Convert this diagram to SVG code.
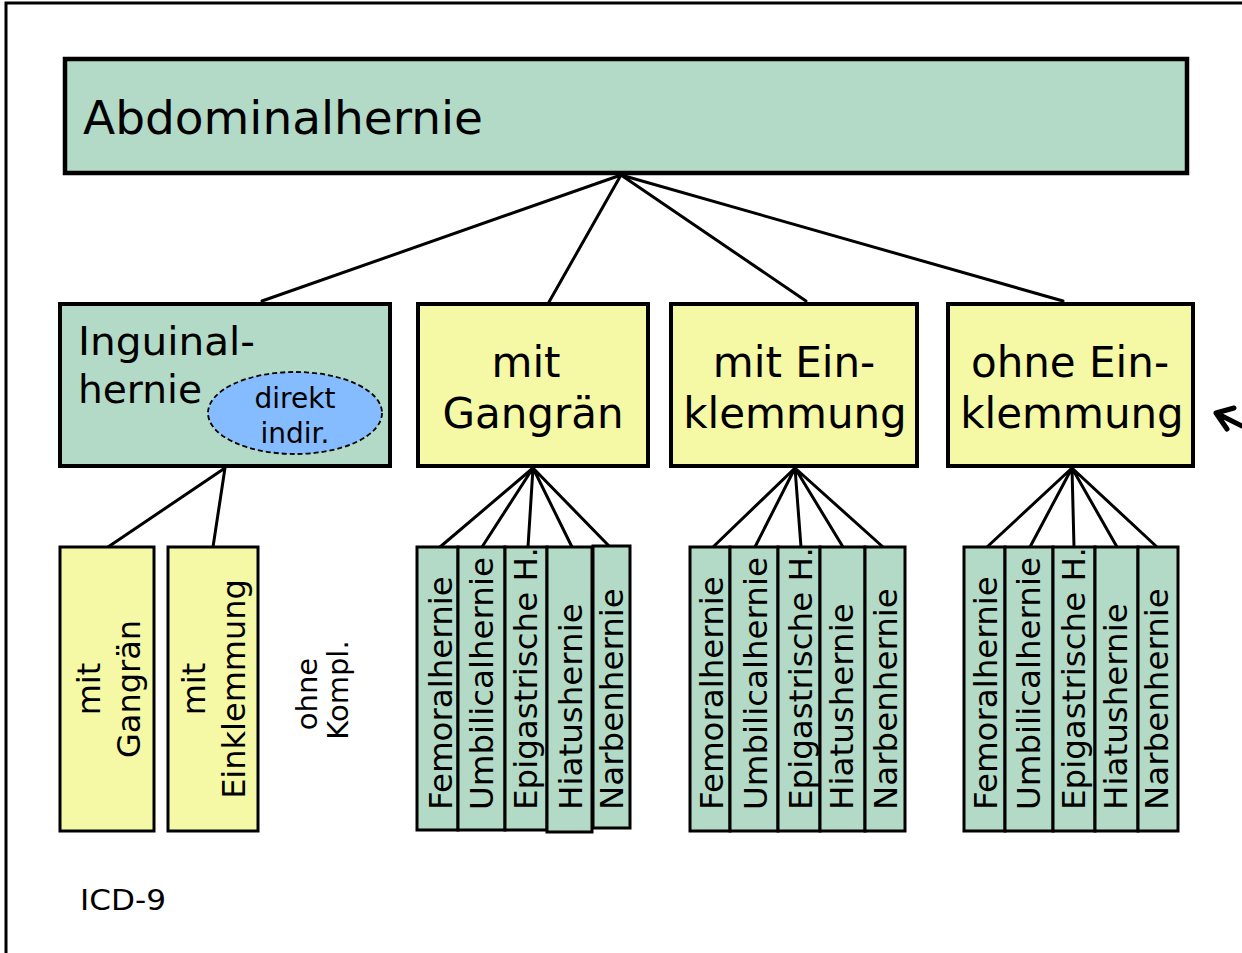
<svg xmlns="http://www.w3.org/2000/svg" width="1242" height="953" viewBox="0 0 1242 953">
<defs>
<style>
.t{font-family:"DejaVu Sans","Verdana",sans-serif;fill:#000}
.g{fill:#b3dac6;stroke:#000}
.y{fill:#f5f9a6;stroke:#000}
.c{fill:none;stroke:#000;stroke-width:3;stroke-linecap:round}
.b{stroke-width:3}
.col{font-size:32.5px}
</style>
<clipPath id="clipCol" clipPathUnits="userSpaceOnUse"><rect x="0" y="549" width="1242" height="320"/></clipPath>
</defs>
<rect width="1242" height="953" fill="#fff"/>
<path d="M6,953 V3 H1242" fill="none" stroke="#000" stroke-width="3"/>

<g id="connectors">
<path class="c" d="M621,175 L262,301 M621,175 L549,302 M621,175 L806,301 M621,175 L1063,301"/>
<path class="c" d="M225,468 L108,547 M225,468 L213,547"/>
<path class="c" d="M533,468 L440,547 M533,468 L482,547 M533,468 L528,547 M533,468 L572,547 M533,468 L610,547"/>
<path class="c" d="M795,468 L713,547 M795,468 L755,547 M795,468 L801,547 M795,468 L843,547 M795,468 L883,547"/>
<path class="c" d="M1072,468 L987,547 M1072,468 L1030,547 M1072,468 L1074,547 M1072,468 L1117,547 M1072,468 L1157,547"/>
<path d="M1242,426 L1216,413 M1234,408 L1216,413 L1227,429" fill="none" stroke="#000" stroke-width="5" stroke-linecap="round" stroke-linejoin="round"/>
</g>

<g id="abdominalhernie">
<rect class="g" x="65" y="59" width="1122" height="114" stroke-width="4.5"/>
<text class="t" x="83" y="134" font-size="47" textLength="400" lengthAdjust="spacingAndGlyphs">Abdominalhernie</text>
</g>

<g id="inguinalhernie">
<rect class="g" x="60" y="304" width="330" height="162" stroke-width="4"/>
<text class="t" x="78" y="355" font-size="39" textLength="177" lengthAdjust="spacingAndGlyphs">Inguinal-</text>
<text class="t" x="78" y="403" font-size="39" textLength="124" lengthAdjust="spacingAndGlyphs">hernie</text>
<ellipse cx="295" cy="413" rx="87" ry="41" fill="#84bcff" stroke="#000" stroke-width="1.8" stroke-dasharray="5,3"/>
<text class="t" x="295" y="408" font-size="28" text-anchor="middle">direkt</text>
<text class="t" x="295" y="443" font-size="28" text-anchor="middle">indir.</text>
</g>

<g id="mit-gangraen">
<rect class="y" x="418" y="304" width="230" height="162" stroke-width="4"/>
<text class="t" x="526" y="377" font-size="42" text-anchor="middle">mit</text>
<text class="t" x="533" y="428" font-size="42" text-anchor="middle">Gangrän</text>
</g>

<g id="mit-einklemmung">
<rect class="y" x="671" y="304" width="246" height="162" stroke-width="4"/>
<text class="t" x="794" y="377" font-size="42" text-anchor="middle">mit Ein-</text>
<text class="t" x="795" y="428" font-size="42" text-anchor="middle">klemmung</text>
</g>

<g id="ohne-einklemmung">
<rect class="y" x="948" y="304" width="245" height="162" stroke-width="4"/>
<text class="t" x="1070" y="377" font-size="42" text-anchor="middle">ohne Ein-</text>
<text class="t" x="1072" y="428" font-size="42" text-anchor="middle">klemmung</text>
</g>

<g id="ing-mit-gangraen">
<rect class="y b" x="60" y="547" width="94" height="284"/>
<text class="t" font-size="32" text-anchor="middle" transform="translate(100,689) rotate(-90)">mit</text>
<text class="t" font-size="32" text-anchor="middle" transform="translate(140,689) rotate(-90)">Gangrän</text>
</g>

<g id="ing-mit-einklemmung">
<rect class="y b" x="168" y="547" width="90" height="284"/>
<text class="t" font-size="32" text-anchor="middle" transform="translate(205,689) rotate(-90)">mit</text>
<text class="t" font-size="32" text-anchor="middle" transform="translate(245,689) rotate(-90)">Einklemmung</text>
</g>

<g id="ing-ohne-kompl">
<text class="t" font-size="29" text-anchor="middle" transform="translate(317,694) rotate(-90)">ohne</text>
<text class="t" font-size="29" text-anchor="middle" transform="translate(348,690) rotate(-90)">Kompl.</text>
</g>

<g id="gangraen-femoral">
<rect class="g b" x="417" y="547" width="41" height="283"/>
<text class="t col" transform="translate(452,810) rotate(-90)">Femoralhernie</text>
</g>
<g id="gangraen-umbilical">
<rect class="g b" x="458" y="547" width="47" height="283"/>
<text class="t col" transform="translate(493,810) rotate(-90)">Umbilicalhernie</text>
</g>
<g id="gangraen-epigastrisch">
<rect class="g b" x="505" y="547" width="42" height="283"/>
<g clip-path="url(#clipCol)"><text class="t col" transform="translate(537,810) rotate(-90)">Epigastrische H.</text></g>
</g>
<g id="gangraen-hiatus">
<rect class="g b" x="547" y="547" width="45" height="285"/>
<text class="t col" transform="translate(582,810) rotate(-90)">Hiatushernie</text>
</g>
<g id="gangraen-narben">
<rect class="g b" x="593" y="546" width="37" height="282"/>
<text class="t col" transform="translate(623,810) rotate(-90)">Narbenhernie</text>
</g>

<g id="einkl-femoral">
<rect class="g b" x="690" y="547" width="40" height="284"/>
<text class="t col" transform="translate(723,810) rotate(-90)">Femoralhernie</text>
</g>
<g id="einkl-umbilical">
<rect class="g b" x="730" y="547" width="48" height="284"/>
<text class="t col" transform="translate(767,810) rotate(-90)">Umbilicalhernie</text>
</g>
<g id="einkl-epigastrisch">
<rect class="g b" x="778" y="547" width="42" height="284"/>
<g clip-path="url(#clipCol)"><text class="t col" transform="translate(812,810) rotate(-90)">Epigastrische H.</text></g>
</g>
<g id="einkl-hiatus">
<rect class="g b" x="820" y="547" width="45" height="284"/>
<text class="t col" transform="translate(853,810) rotate(-90)">Hiatushernie</text>
</g>
<g id="einkl-narben">
<rect class="g b" x="865" y="547" width="40" height="284"/>
<text class="t col" transform="translate(897,810) rotate(-90)">Narbenhernie</text>
</g>

<g id="ohne-femoral">
<rect class="g b" x="964" y="547" width="41" height="284"/>
<text class="t col" transform="translate(997,810) rotate(-90)">Femoralhernie</text>
</g>
<g id="ohne-umbilical">
<rect class="g b" x="1005" y="547" width="48" height="284"/>
<text class="t col" transform="translate(1040,810) rotate(-90)">Umbilicalhernie</text>
</g>
<g id="ohne-epigastrisch">
<rect class="g b" x="1053" y="547" width="42" height="284"/>
<g clip-path="url(#clipCol)"><text class="t col" transform="translate(1085,810) rotate(-90)">Epigastrische H.</text></g>
</g>
<g id="ohne-hiatus">
<rect class="g b" x="1095" y="547" width="43" height="284"/>
<text class="t col" transform="translate(1127,810) rotate(-90)">Hiatushernie</text>
</g>
<g id="ohne-narben">
<rect class="g b" x="1138" y="547" width="40" height="284"/>
<text class="t col" transform="translate(1168,810) rotate(-90)">Narbenhernie</text>
</g>

<text class="t" x="80" y="910" font-size="28" textLength="86" lengthAdjust="spacingAndGlyphs">ICD-9</text>
</svg>
